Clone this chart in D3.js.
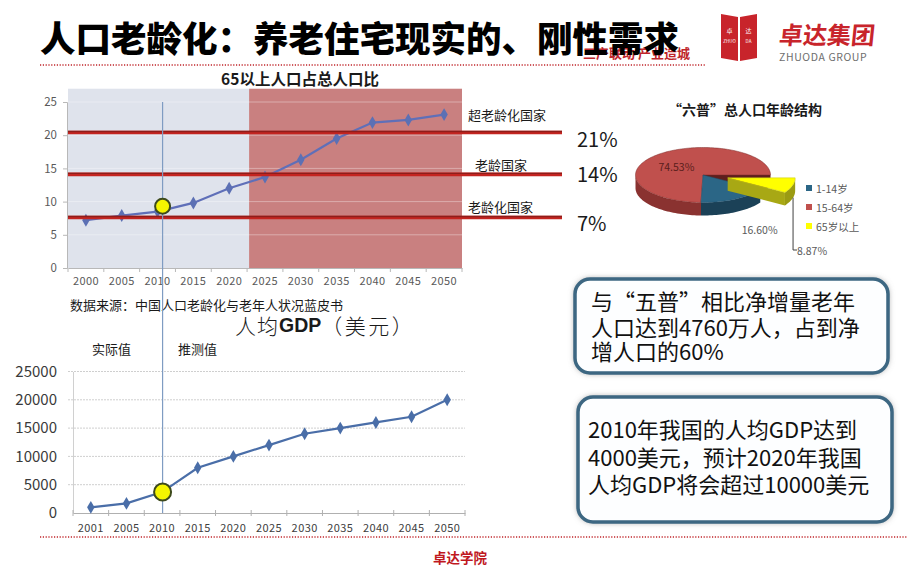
<!DOCTYPE html>
<html><head><meta charset="utf-8">
<script src="https://cdn.jsdelivr.net/npm/d3@7/dist/d3.min.js"></script>
<style>
body{margin:0;background:#fff}
svg{display:block}
text{font-family:"Noto Sans CJK SC","Noto Sans",sans-serif}
</style>
</head><body>
<svg id="c" width="920" height="584"></svg>
<script>
// ---------------- DATA ----------------
const agingYears = ["2000","2005","2010","2015","2020","2025","2030","2035","2040","2045","2050"];
const agingShare = [7.2, 7.9, 8.5, 9.8, 12.0, 13.7, 16.3, 19.5, 21.9, 22.3, 23.1];
const agingTicks = [0, 5, 10, 15, 20, 25];
const thresholdLevels = [20.4, 14.1, 7.6];
const thresholdNames = ["超老龄化国家", "老龄国家", "老龄化国家"];
const thresholdLabels = ["21%", "14%", "7%"];
const agingHighlight = 9.3;

const gdpYears = ["2001","2005","2010","2015","2020","2025","2030","2035","2040","2045","2050"];
const gdpValues = [1000, 1700, 3700, 8000, 10000, 12000, 14000, 15000, 16000, 17000, 20000];
const gdpTicks = [0, 5000, 10000, 15000, 20000, 25000];
const gdpHighlightYear = "2010";

const pieCategories = ["1-14岁", "15-64岁", "65岁以上"];
const pieValues = [16.60, 74.53, 8.87];
const pieLabels = ["16.60%", "74.53%", "8.87%"];

const box1Lines = ["与“五普”相比净增量老年", "人口达到4760万人，占到净", "增人口的60%"];
const box2Lines = ["2010年我国的人均GDP达到", "4000美元，预计2020年我国", "人均GDP将会超过10000美元"];

// ---------------- SETUP ----------------
const svg = d3.select("#c");
const defs = svg.append("defs");
const sh = defs.append("filter").attr("id","shadow").attr("x","-10%").attr("y","-15%").attr("width","120%").attr("height","130%");
sh.append("feDropShadow").attr("dx",0).attr("dy",0).attr("stdDeviation",3.2).attr("flood-color","#7d7d7d").attr("flood-opacity",0.9);
const glow = defs.append("filter").attr("id","glow").attr("x","-5%").attr("y","-200%").attr("width","110%").attr("height","500%");
glow.append("feGaussianBlur").attr("stdDeviation",1.6);

svg.append("rect").attr("width",920).attr("height",584).attr("fill","#fff");

// ---------------- HEADER ----------------
svg.append("text").attr("x",583).attr("y",52).attr("dominant-baseline","central").attr("font-size",13).attr("font-weight",700)
  .attr("fill","#c0262b").text("三产联动 产业造城");
svg.append("text").attr("x",40).attr("y",36).attr("dominant-baseline","central")
  .attr("font-size",35.5).attr("font-weight",900).attr("fill","#000").text("人口老龄化：养老住宅现实的、刚性需求");
svg.append("line").attr("x1",40).attr("x2",706).attr("y1",65).attr("y2",65)
  .attr("stroke","#c0262b").attr("stroke-width",1.5).attr("stroke-dasharray","1.2,1.6");

// logo
const logo = svg.append("g");
logo.append("path").attr("d","M721,14 L738,17 L738,61 L721,58 Z").attr("fill","#c8242b");
logo.append("path").attr("d","M740,17 L757,14 L757,58 L740,61 Z").attr("fill","#c8242b");
logo.append("text").attr("x",729.5).attr("y",33).attr("text-anchor","middle").attr("font-size",6).attr("fill","#fff").text("卓");
logo.append("text").attr("x",748.5).attr("y",33).attr("text-anchor","middle").attr("font-size",6).attr("fill","#fff").text("达");
logo.append("text").attr("x",729.5).attr("y",43).attr("text-anchor","middle").attr("font-size",4.5).attr("fill","#fff").text("ZHUO");
logo.append("text").attr("x",748.5).attr("y",43).attr("text-anchor","middle").attr("font-size",4.5).attr("fill","#fff").text("DA");
logo.append("text").attr("x",778).attr("y",44).attr("font-size",24).attr("font-weight",700).attr("fill","#c8242b")
  .attr("transform","skewX(-6) translate(5,0)").text("卓达集团");
logo.append("text").attr("x",779).attr("y",61).attr("font-family","Liberation Sans, Arial, sans-serif")
  .attr("font-size",10.5).attr("fill","#6e6e6e").attr("letter-spacing",0.6).text("ZHUODA GROUP");

// ---------------- TOP CHART ----------------
const xTop = d3.scaleBand().domain(agingYears).range([68, 462]).padding(0);
const yTop = d3.scaleLinear().domain([0, 25]).range([268, 102]);
const gTop = svg.append("g");

gTop.append("text").attr("x",300).attr("y",78).attr("text-anchor","middle").attr("dominant-baseline","central")
  .attr("font-size",15.5).attr("font-weight",700).attr("fill","#1a1a1a").text("65以上人口占总人口比");

gTop.append("rect").attr("x",xTop.range()[0]).attr("y",yTop(27)).attr("width",xTop("2025")-xTop.range()[0]+2)
  .attr("height",yTop(0)-yTop(27)).attr("fill","#dfe3ec");
gTop.append("rect").attr("x",xTop("2025")+2).attr("y",yTop(27)).attr("width",xTop.range()[1]-xTop("2025")-2)
  .attr("height",yTop(0)-yTop(27)).attr("fill","#c98080");
gTop.selectAll("line.grid").data(agingTicks.slice(1)).join("line")
  .attr("x1",xTop.range()[0]).attr("x2",xTop.range()[1]).attr("y1",d=>yTop(d)).attr("y2",d=>yTop(d))
  .attr("stroke","#ffffff").attr("stroke-opacity",0.35).attr("stroke-width",1);

const yAxT = gTop.append("g").attr("transform",`translate(${xTop.range()[0]-1},0)`)
  .call(d3.axisLeft(yTop).tickValues(agingTicks).tickSize(4).tickPadding(6));
yAxT.select(".domain").attr("stroke","#b8b8b8");
yAxT.selectAll(".tick line").attr("stroke","#b8b8b8");
yAxT.selectAll("text").attr("font-family","Liberation Sans, Arial, sans-serif").attr("font-size",11.5).attr("fill","#595959");
const xAxT = gTop.append("g").attr("transform",`translate(0,${yTop(0)})`)
  .call(d3.axisBottom(xTop).tickSize(0).tickPadding(9));
xAxT.select(".domain").attr("stroke","#b8b8b8");
xAxT.selectAll("text").attr("font-family","Liberation Sans, Arial, sans-serif").attr("font-size",11).attr("fill","#595959").attr("letter-spacing",0.4);
gTop.selectAll("line.xt").data(agingYears.concat(["end"])).join("line")
  .attr("x1",(d,i)=>xTop.range()[0]+i*xTop.step()).attr("x2",(d,i)=>xTop.range()[0]+i*xTop.step())
  .attr("y1",yTop(0)).attr("y2",yTop(0)+4).attr("stroke","#b8b8b8");

const cx = d => xTop(d)+xTop.bandwidth()/2;
gTop.append("path").datum(agingShare.map((v,i)=>[cx(agingYears[i]), yTop(v)]))
  .attr("d", d3.line()).attr("fill","none").attr("stroke","#5f6fb8").attr("stroke-width",2.2);
gTop.selectAll("path.mk").data(agingShare).join("path")
  .attr("transform",(d,i)=>`translate(${cx(agingYears[i])},${yTop(d)})`)
  .attr("d", d3.symbol(d3.symbolDiamond, 48)).attr("fill","#5c70b4");

const thrX1 = 562;
thresholdLevels.forEach((v,i)=>{
  gTop.append("line").attr("x1",xTop.range()[0]).attr("x2",thrX1).attr("y1",yTop(v)).attr("y2",yTop(v))
    .attr("stroke","#ff9c9c").attr("stroke-opacity",0.75).attr("stroke-width",9).attr("filter","url(#glow)");
  gTop.append("line").attr("x1",xTop.range()[0]).attr("x2",thrX1).attr("y1",yTop(v)).attr("y2",yTop(v))
    .attr("stroke","#c42420").attr("stroke-width",3.6);
  gTop.append("line").attr("x1",xTop.range()[0]).attr("x2",thrX1).attr("y1",yTop(v)-1).attr("y2",yTop(v)-1)
    .attr("stroke","#8e1d1a").attr("stroke-width",1.4);
});
const nameX = [468, 475, 468];
const nameDY = [-18, -10, -11];
thresholdNames.forEach((t,i)=>{
  gTop.append("text").attr("x",nameX[i]).attr("y",yTop(thresholdLevels[i])+nameDY[i]).attr("dominant-baseline","central")
    .attr("font-size",13).attr("fill","#1a1a1a").text(t);
});
const pctDY = [6, -1, 5];
thresholdLabels.forEach((t,i)=>{
  gTop.append("text").attr("x",577).attr("y",yTop(thresholdLevels[i])+pctDY[i]).attr("dominant-baseline","central")
    .attr("font-size",20).attr("fill","#1a1a1a").text(t);
});

gTop.append("text").attr("x",70).attr("y",304).attr("dominant-baseline","central")
  .attr("font-size",13).attr("fill","#1a1a1a").text("数据来源：中国人口老龄化与老年人状况蓝皮书");

// ---------------- BOTTOM CHART ----------------
const xBot = d3.scaleBand().domain(gdpYears).range([73, 465]).padding(0);
const yBot = d3.scaleLinear().domain([0, 25000]).range([513, 371.5]);
const gBot = svg.append("g");
const bx = d => xBot(d)+xBot.bandwidth()/2;

gBot.append("text").attr("x",235).attr("y",325).attr("dominant-baseline","central").attr("font-size",21).attr("fill","#1a1a1a")
  .call(t=>{
    t.append("tspan").attr("font-weight",300).attr("letter-spacing",1).text("人均");
    t.append("tspan").attr("font-weight",700).attr("font-family","Liberation Sans, Arial, sans-serif").attr("font-size",19.5).text("GDP");
    t.append("tspan").attr("font-weight",300).attr("letter-spacing",2.5).text("（美元）");
  });
gBot.append("text").attr("x",92).attr("y",348).attr("dominant-baseline","central").attr("font-size",13).attr("fill","#1a1a1a").text("实际值");
gBot.append("text").attr("x",178).attr("y",348).attr("dominant-baseline","central").attr("font-size",13).attr("fill","#1a1a1a").text("推测值");

gBot.selectAll("line.grid").data(gdpTicks.slice(1)).join("line")
  .attr("x1",68).attr("x2",xBot.range()[1]).attr("y1",d=>yBot(d)).attr("y2",d=>yBot(d))
  .attr("stroke","#cfcfcf").attr("stroke-width",1).attr("stroke-dasharray","2,1");
const yAxB = gBot.append("g").attr("transform",`translate(${xBot.range()[0]},0)`)
  .call(d3.axisLeft(yBot).tickValues(gdpTicks).tickSize(0).tickPadding(16).tickFormat(d3.format("d")));
yAxB.select(".domain").attr("stroke","#d0d0d0");
yAxB.selectAll("text").attr("font-family","Liberation Sans, Arial, sans-serif").attr("font-size",15).attr("fill","#3a3a3a");
const xAxB = gBot.append("g").attr("transform",`translate(0,${yBot(0)})`)
  .call(d3.axisBottom(xBot).tickSize(0).tickPadding(11));
xAxB.select(".domain").attr("stroke","#b0b0b0");
xAxB.selectAll("text").attr("font-family","Liberation Sans, Arial, sans-serif").attr("font-size",11).attr("fill","#404040").attr("letter-spacing",0.4);
gBot.selectAll("line.xt").data(gdpYears.concat(["end"])).join("line")
  .attr("x1",(d,i)=>xBot.range()[0]+i*xBot.step()).attr("x2",(d,i)=>xBot.range()[0]+i*xBot.step())
  .attr("y1",yBot(0)-3).attr("y2",yBot(0)+3).attr("stroke","#b0b0b0");

gBot.append("path").datum(gdpValues.map((v,i)=>[bx(gdpYears[i]), yBot(v)]))
  .attr("d", d3.line()).attr("fill","none").attr("stroke","#4a6ea8").attr("stroke-width",2.2);
gBot.selectAll("path.mk").data(gdpValues).join("path")
  .attr("transform",(d,i)=>`translate(${bx(gdpYears[i])},${yBot(d)})`)
  .attr("d", d3.symbol(d3.symbolDiamond, 48)).attr("fill","#4a6ea8");

const vx = bx(gdpHighlightYear)+0.5;
svg.append("line").attr("x1",vx).attr("x2",vx).attr("y1",yTop(25)).attr("y2",yBot(0))
  .attr("stroke","#7f9cc2").attr("stroke-width",1.2);
svg.append("circle").attr("cx",vx).attr("cy",yTop(agingHighlight)).attr("r",7.5)
  .attr("fill","#f5f500").attr("stroke","#3d4a1c").attr("stroke-width",2);
svg.append("circle").attr("cx",vx).attr("cy",yBot(gdpValues[gdpYears.indexOf(gdpHighlightYear)])).attr("r",8.5)
  .attr("fill","#f5f500").attr("stroke","#3d4a1c").attr("stroke-width",2);

svg.append("line").attr("x1",40).attr("x2",908).attr("y1",537).attr("y2",537)
  .attr("stroke","#c0262b").attr("stroke-width",1.5).attr("stroke-dasharray","1.2,1.6");
svg.append("text").attr("x",460).attr("y",557).attr("text-anchor","middle").attr("dominant-baseline","central")
  .attr("font-size",13.5).attr("font-weight",700).attr("fill","#c0181f").text("卓达学院");

// ---------------- PIE (3D) ----------------
const gPie = svg.append("g");
gPie.append("text").attr("x",745).attr("y",109).attr("text-anchor","middle").attr("dominant-baseline","central")
  .attr("font-size",14).attr("font-weight",700).attr("fill","#1a1a1a").text("“六普”总人口年龄结构");

const pcx=703, pcy=175, prx=67.5, pry=27.5, pdep=13;
const pieFill = ["#2b6686","#c0504d","#ffff00"];
const pieSide = ["#1b4157","#8a3230","#9b9b12"];
const pieEdge = ["#224f68","#7a2a28","#c4c41a"];
const pieOrder = [2,0,1];
const pieGen = d3.pie().sort(null).value(i=>pieValues[i]).startAngle(Math.PI/2).endAngle(Math.PI/2+2*Math.PI);
const arcs = pieGen(pieOrder);
const P = (a,ox,oy,k=1,dz=0)=>[ox+prx*k*Math.sin(a), oy-pry*k*Math.cos(a)+dz];
function topPath(a0,a1,ox,oy){
  const n=Math.max(4,Math.ceil((a1-a0)*30)); let s=`M${ox},${oy}`;
  for(let j=0;j<=n;j++){const p=P(a0+(a1-a0)*j/n,ox,oy); s+=`L${p[0]},${p[1]}`;}
  return s+"Z";
}
function wallPath(a0,a1,ox,oy){
  const b0=Math.max(a0,Math.PI/2), b1=Math.min(a1,3*Math.PI/2);
  if(b1<=b0) return null;
  const n=Math.max(4,Math.ceil((b1-b0)*30)); let s="";
  const pts=[];
  for(let j=0;j<=n;j++) pts.push(b0+(b1-b0)*j/n);
  pts.forEach((a,j)=>{const p=P(a,ox,oy); s+=(j?"L":"M")+p[0]+","+p[1];});
  pts.slice().reverse().forEach(a=>{const p=P(a,ox,oy,1,pdep); s+="L"+p[0]+","+p[1];});
  return s+"Z";
}
function radialPath(a,ox,oy){
  const p=P(a,ox,oy);
  return `M${ox},${oy}L${p[0]},${p[1]}L${p[0]},${p[1]+pdep}L${ox},${oy+pdep}Z`;
}
const off = arcs.map(d=>{
  const mid=(d.startAngle+d.endAngle)/2;
  const k = d.data===2 ? 0.38 : 0;
  return [prx*k*Math.sin(mid), -pry*k*Math.cos(mid)];
});
const drawOrder = [2,1,0];
drawOrder.forEach(ai=>{
  const d=arcs[ai], ci=d.data, ox=pcx+off[ai][0], oy=pcy+off[ai][1];
  if(ci===1) gPie.append("path").attr("d",radialPath(d.endAngle,ox,oy)).attr("fill","#5e1f1d");
  if(ci===2) gPie.append("path").attr("d",radialPath(d.endAngle,ox,oy)).attr("fill","#a8a814");
  const w=wallPath(d.startAngle,d.endAngle,ox,oy);
  if(w) gPie.append("path").attr("d",w).attr("fill",pieSide[ci]);
  gPie.append("path").attr("d",topPath(d.startAngle,d.endAngle,ox,oy)).attr("fill",pieFill[ci])
    .attr("stroke",pieEdge[ci]).attr("stroke-width",0.5);
});
const redArc = arcs.find(d=>d.data===1), blueArc = arcs.find(d=>d.data===0), yelArc = arcs.find(d=>d.data===2);
const rl = P((redArc.startAngle+redArc.endAngle)/2, pcx, pcy, 0.48);
gPie.append("text").attr("x",rl[0]-4).attr("y",rl[1]+1).attr("text-anchor","middle").attr("dominant-baseline","central")
  .attr("font-family","Liberation Sans, Arial, sans-serif").attr("font-size",10.5).attr("fill","#5a1e1c").text(pieLabels[1]);
const bl = P((blueArc.startAngle+blueArc.endAngle)/2, pcx, pcy, 1.15, pdep+14);
gPie.append("text").attr("x",bl[0]+20).attr("y",bl[1]).attr("text-anchor","middle").attr("dominant-baseline","central")
  .attr("font-family","Liberation Sans, Arial, sans-serif").attr("font-size",10.5).attr("fill","#595959").text(pieLabels[0]);
const yo = off[arcs.indexOf(yelArc)];
const yl = P(yelArc.startAngle+0.25, pcx+yo[0], pcy+yo[1], 1, pdep);
gPie.append("path").attr("d",`M${yl[0]},${yl[1]}L${yl[0]},${250}L${yl[0]+4},${250}`).attr("fill","none")
  .attr("stroke","#404040").attr("stroke-width",1);
gPie.append("text").attr("x",yl[0]+4).attr("y",250).attr("dominant-baseline","central")
  .attr("font-family","Liberation Sans, Arial, sans-serif").attr("font-size",10.5).attr("fill","#595959").text(pieLabels[2]);
pieCategories.forEach((c,i)=>{
  const y = 188 + i*19;
  gPie.append("rect").attr("x",806).attr("y",y-3).attr("width",6).attr("height",6).attr("fill",pieFill[i]);
  gPie.append("text").attr("x",816).attr("y",y).attr("dominant-baseline","central")
    .attr("font-size",10.5).attr("fill","#595959").text(c);
});

// ---------------- TEXT BOXES ----------------
function box(x,y,w,h,lines,ys,tx){
  const g=svg.append("g");
  g.append("rect").attr("x",x).attr("y",y).attr("width",w).attr("height",h).attr("rx",15)
    .attr("fill","#fff").attr("filter","url(#shadow)");
  g.append("rect").attr("x",x).attr("y",y).attr("width",w).attr("height",h).attr("rx",15)
    .attr("fill","#fdfeff").attr("stroke","#3d6782").attr("stroke-width",3.5);
  lines.forEach((l,i)=>g.append("text").attr("x",tx).attr("y",ys[i]).attr("dominant-baseline","central")
    .attr("font-size",22).attr("fill","#111").text(l));
}
box(575,279,313,94,box1Lines,[300,326,350],591);
box(578,397,314,125,box2Lines,[428,456,483],588);
</script>
</body></html>
